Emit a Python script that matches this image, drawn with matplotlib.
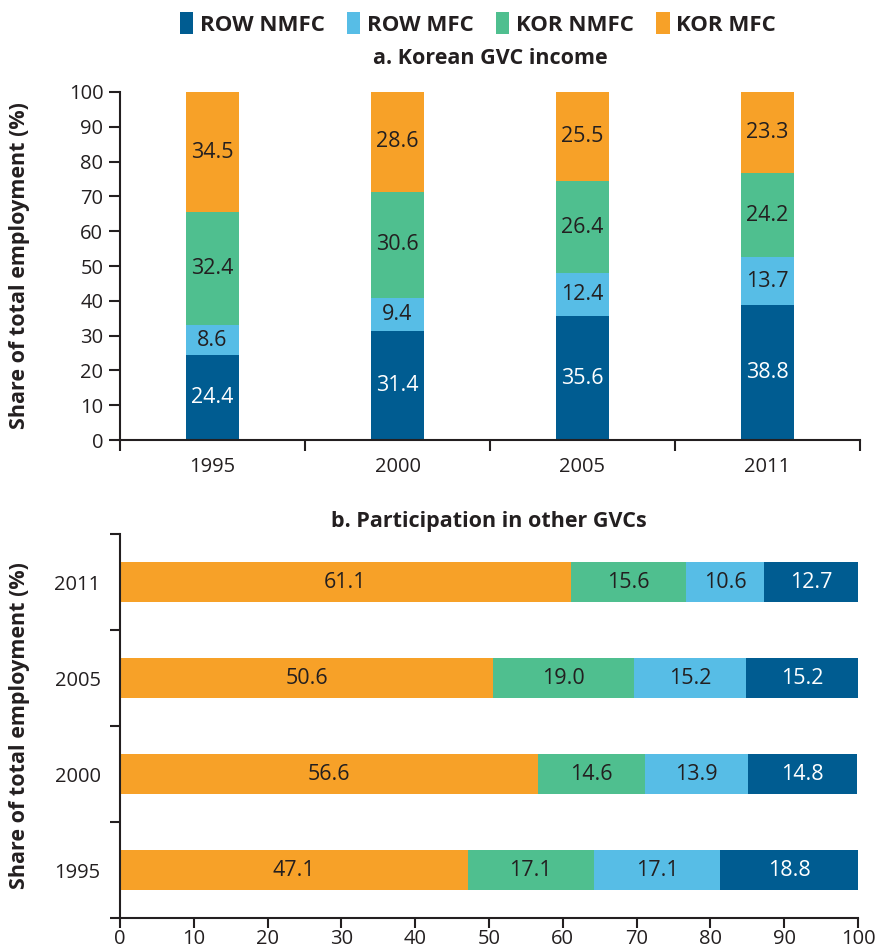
import numpy as np
import matplotlib.pyplot as plt
from matplotlib.patches import Patch

plt.rcParams['font.family'] = ['Open Sans', 'DejaVu Sans']

years = ['1995', '2000', '2005', '2011']
series = ['ROW NMFC', 'ROW MFC', 'KOR NMFC', 'KOR MFC']
colors = {'ROW NMFC': '#005C91', 'ROW MFC': '#57BDE6', 'KOR NMFC': '#4FBF8F', 'KOR MFC': '#F7A128'}
text_colors = {'ROW NMFC': 'white', 'ROW MFC': '#231F20', 'KOR NMFC': '#231F20', 'KOR MFC': '#231F20'}

# panel a: Korean GVC income
income = {
    'ROW NMFC': [24.4, 31.4, 35.6, 38.8],
    'ROW MFC': [8.6, 9.4, 12.4, 13.7],
    'KOR NMFC': [32.4, 30.6, 26.4, 24.2],
    'KOR MFC': [34.5, 28.6, 25.5, 23.3],
}
# panel b: participation in other GVCs (drawn left to right)
participation = {
    'KOR MFC': [47.1, 56.6, 50.6, 61.1],
    'KOR NMFC': [17.1, 14.6, 19.0, 15.6],
    'ROW MFC': [17.1, 13.9, 15.2, 10.6],
    'ROW NMFC': [18.8, 14.8, 15.2, 12.7],
}

dark = '#231F20'
fs = 14.5      # tick labels
fs_bar = 15.5  # labels inside the bars
fig = plt.figure(figsize=(8.8, 9.49), dpi=100)
ax1 = fig.add_axes([120/880, 1-440/949, 740/880, 348/949])
ax2 = fig.add_axes([120/880, 1-918/949, 738/880, 384/949])

# top: stacked columns
x = np.arange(len(years))
bottom = np.zeros(len(years))
for s in series:
    vals = np.array(income[s])
    ax1.bar(x, vals, bottom=bottom, width=0.29, color=colors[s], zorder=2)
    for xi, b, v in zip(x, bottom, vals):
        ax1.text(xi, b + v/2, f'{v:.1f}', ha='center', va='center',
                 fontsize=fs_bar, color=text_colors[s], zorder=3)
    bottom += vals
ax1.set_xlim(-0.5, 3.5)
ax1.set_ylim(0, 100)
ax1.set_yticks(range(0, 101, 10))
ax1.set_xticks(np.arange(-0.5, 4, 1))
ax1.set_xticklabels([])
ax1.set_xticks(x, minor=True)
ax1.set_xticklabels(years, minor=True)
ax1.tick_params(axis='x', which='minor', length=0, pad=12)
ax1.tick_params(axis='x', which='major', length=8, direction='out', width=1.5, color=dark)
ax1.tick_params(axis='y', length=8, direction='out', width=1.5, color=dark, pad=4)
ax1.tick_params(which='both', labelsize=fs, labelcolor=dark)
for sp in ['top', 'right']:
    ax1.spines[sp].set_visible(False)
for sp in ['left', 'bottom']:
    ax1.spines[sp].set_linewidth(1.5)
    ax1.spines[sp].set_color(dark)
ax1.set_ylabel('Share of total employment (%)', fontsize=15.5, fontweight='bold', color=dark)
ax1.yaxis.set_label_coords(-0.122, 0.5)
ax1.set_title('a. Korean GVC income', fontsize=15.5, fontweight='bold', color=dark, pad=20)

# bottom: stacked horizontal bars
y = np.arange(len(years))
left = np.zeros(len(years))
for s in ['KOR MFC', 'KOR NMFC', 'ROW MFC', 'ROW NMFC']:
    vals = np.array(participation[s])
    ax2.barh(y, vals, left=left, height=0.42, color=colors[s], zorder=2)
    for yi, l, v in zip(y, left, vals):
        ax2.text(l + v/2, yi, f'{v:.1f}', ha='center', va='center',
                 fontsize=fs_bar, color=text_colors[s], zorder=3)
    left += vals
ax2.set_xlim(0, 100)
ax2.set_ylim(-0.5, 3.5)
ax2.set_xticks(range(0, 101, 10))
ax2.set_yticks(np.arange(-0.5, 4, 1))
ax2.set_yticklabels([])
ax2.set_yticks(y, minor=True)
ax2.set_yticklabels(years, minor=True)
ax2.tick_params(axis='y', which='minor', length=0, pad=14)
ax2.tick_params(axis='y', which='major', length=7, direction='out', width=1.5, color=dark)
ax2.tick_params(axis='x', length=7, direction='out', width=1.5, color=dark, pad=1)
ax2.tick_params(which='both', labelsize=fs, labelcolor=dark)
for sp in ['top', 'right']:
    ax2.spines[sp].set_visible(False)
for sp in ['left', 'bottom']:
    ax2.spines[sp].set_linewidth(1.5)
    ax2.spines[sp].set_color(dark)
ax2.set_ylabel('Share of total employment (%)', fontsize=15.5, fontweight='bold', color=dark)
ax2.yaxis.set_label_coords(-0.122, 0.5)
ax2.set_title('b. Participation in other GVCs', fontsize=15.5, fontweight='bold', color=dark, pad=5)

handles = [Patch(facecolor=colors[s], label=s) for s in series]
fig.legend(handles=handles, loc='center', bbox_to_anchor=(478/880, 1-24/949), ncol=4,
           frameon=False, prop={'weight': 'bold', 'size': 16}, labelcolor=dark,
           handlelength=0.6, handleheight=1.1, handletextpad=0.3, columnspacing=1.0)

fig.savefig('out.png', dpi=100)
